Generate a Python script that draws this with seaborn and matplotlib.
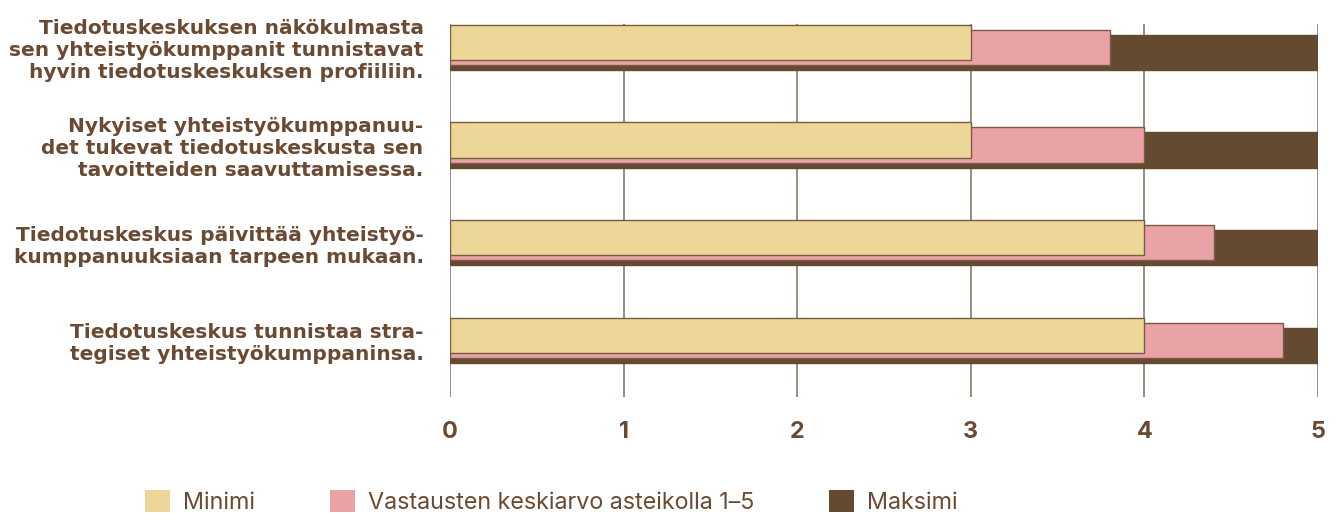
import matplotlib
matplotlib.use("Agg")
import matplotlib.pyplot as plt
import matplotlib.transforms as mtransforms
from matplotlib.patches import Patch
import seaborn as sns

# ---- data ----
statements = [
    "Tiedotuskeskuksen näkökulmasta\nsen yhteistyökumppanit tunnistavat\nhyvin tiedotuskeskuksen profiiliin.",
    "Nykyiset yhteistyökumppanuu-\ndet tukevat tiedotuskeskusta sen\ntavoitteiden saavuttamisessa.",
    "Tiedotuskeskus päivittää yhteistyö-\nkumppanuuksiaan tarpeen mukaan.",
    "Tiedotuskeskus tunnistaa stra-\ntegiset yhteistyökumppaninsa.",
]
minimum = [3, 3, 4, 4]
average = [3.8, 4.0, 4.4, 4.8]
maximum = [5, 5, 5, 5]
series_labels = ["Minimi", "Vastausten keskiarvo asteikolla 1–5", "Maksimi"]
x_ticks = [0, 1, 2, 3, 4, 5]

# ---- style ----
sns.set_style("white")
plt.rcParams['font.family'] = ['Inter', 'DejaVu Sans']

TEXT = "#6b4a33"
YELLOW = "#ecd798"
PINK = "#e9a3a6"
BROWN = "#654a32"
EDGE = "#7a5a42"
GRID = "#8c7868"

W, H = 1338, 518
fig = plt.figure(figsize=(W / 100, H / 100), dpi=100)
ax = fig.add_axes([450 / W, 1 - 397 / H, 868 / W, 373 / H])

layers = [
    (maximum, BROWN, -5),
    (average, PINK, 0),
    (minimum, YELLOW, 5),
]
for values, color, dy in layers:
    sns.barplot(x=values, y=statements, orient="h", color=color, saturation=1,
                width=0.36, edgecolor=EDGE if color != BROWN else BROWN,
                linewidth=1.0, ax=ax, zorder=3)
    offset = mtransforms.ScaledTranslation(0, dy / 100, fig.dpi_scale_trans)
    for p in ax.containers[-1]:
        p.set_transform(ax.transData + offset)

ax.set_xlim(0, 5)
ax.set_ylim(3.582, -0.24)
ax.set_xticks(x_ticks)
ax.set_xticklabels([str(t) for t in x_ticks])
ax.set_xlabel("")
ax.set_ylabel("")
for s in ax.spines.values():
    s.set_visible(False)
ax.grid(axis="x", color=GRID, linewidth=1.2, zorder=0)
ax.grid(axis="y", visible=False)
ax.set_axisbelow(True)

ax.tick_params(axis="x", length=0, pad=17, labelsize=16.8, labelcolor=TEXT)
ax.tick_params(axis="y", length=0, pad=19, labelsize=14.5, labelcolor=TEXT)
for t in ax.get_xticklabels():
    t.set_fontweight("bold")
for t in ax.get_yticklabels():
    t.set_family(['DejaVu Sans'])
    t.set_fontweight("bold")
    t.set_linespacing(1.2)
    t.set_multialignment("right")

handles = [Patch(facecolor=c, edgecolor="none", label=l)
           for c, l in zip([YELLOW, PINK, BROWN], series_labels)]
fig.legend(handles=handles, loc="lower left", bbox_to_anchor=(145 / W, 4 / H),
           ncol=3, frameon=False, fontsize=16.8, labelcolor=TEXT,
           handlelength=1.07, handleheight=1.07, handletextpad=0.56,
           columnspacing=3.2, borderpad=0, borderaxespad=0)

fig.savefig("out.png", dpi=100)
